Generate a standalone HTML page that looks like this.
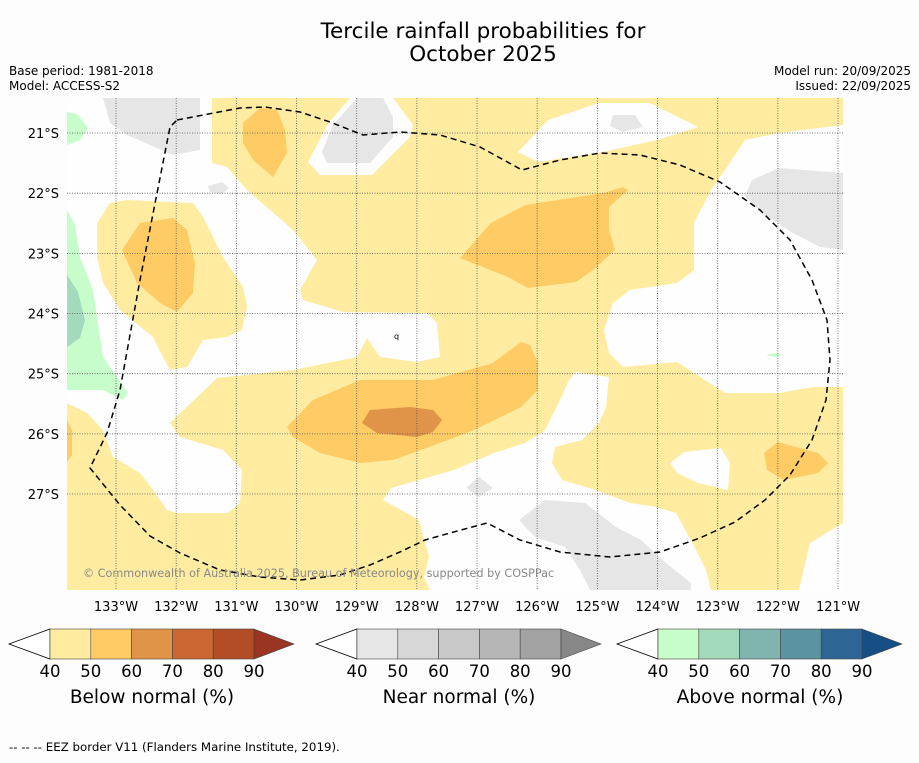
<!DOCTYPE html>
<html><head><meta charset="utf-8">
<style>
html,body{margin:0;padding:0;background:#fdfdfd;}
body{width:919px;height:758px;overflow:hidden;font-family:"Liberation Sans",sans-serif;}
text{font-family:"DejaVu Sans","Liberation Sans",sans-serif;}
</style></head>
<body>
<svg id="chart" width="919" height="758" viewBox="0 0 919 758" xmlns="http://www.w3.org/2000/svg">
<rect x="0" y="0" width="919" height="758" fill="#fdfdfd"/>
<text x="483" y="38" font-size="21.5" text-anchor="middle" fill="#000">Tercile rainfall probabilities for</text>
<text x="483" y="61" font-size="21.5" text-anchor="middle" fill="#000">October 2025</text>
<text x="9" y="75" font-size="12">Base period: 1981-2018</text>
<text x="9" y="90" font-size="12">Model: ACCESS-S2</text>
<text x="911" y="75" font-size="12" text-anchor="end">Model run: 20/09/2025</text>
<text x="911" y="90" font-size="12" text-anchor="end">Issued: 22/09/2025</text>

<defs><clipPath id="mapclip"><rect x="67" y="98" width="776" height="492"/></clipPath></defs>
<g clip-path="url(#mapclip)">
<rect x="67" y="98" width="776" height="492" fill="#ffeca0"/>
<g fill="#fefefe">
<path d="M67,98 L212,98 L212,163 L227,167 L247,190 L293,230 L317,260 L300,290 L303,300 L343,312 L427,313 L437,323 L440,357 L417,362 L380,357 L367,338 L357,357 L293,370 L217,378 L170,423 L180,437 L223,450 L242,470 L240,503 L227,513 L177,513 L167,510 L153,490 L140,473 L113,457 L103,430 L87,413 L67,403 Z"/>
<path d="M350,98 L393,98 L413,125 L410,137 L372,175 L320,175 L308,162 L318,143 L327,125 Z"/>
<path d="M518,152 L548,120 L599,103 L650,103 L698,127 L657,140 L603,152 L538,162 Z"/>
<path d="M843,125 L779,133 L745,140 L725,170 L711,190 L694,223 L694,270 L677,283 L630,290 L613,303 L604,330 L609,353 L623,367 L677,362 L725,393 L779,393 L813,387 L843,387 Z"/>
<path d="M569,380 L576,372 L609,377 L606,407 L599,423 L582,440 L555,447 L552,463 L562,480 L596,490 L630,503 L656,507 L676,513 L691,540 L706,570 L711,590 L430,590 L424,577 L429,557 L419,520 L388,503 L383,500 L391,488 L454,470 L494,453 L525,443 L545,430 L560,400 Z"/>
<path d="M670,463 L684,452 L721,448 L730,463 L728,490 L698,483 L677,473 Z"/>
<path d="M799,590 L810,543 L843,523 L843,590 Z"/>
</g>
<path fill="#ffeca0" d="M97,223 L110,203 L127,200 L193,203 L203,217 L223,257 L243,287 L247,307 L242,330 L227,337 L203,340 L187,367 L170,370 L163,357 L153,337 L120,310 L103,283 L97,257 Z"/>
<g fill="#e6e6e6">
<path d="M103,98 L200,98 L200,150 L173,155 L127,135 L110,123 Z"/>
<path d="M208,186 L222,182 L229,188 L222,194 L210,192 Z"/>
<path d="M357,98 L383,98 L393,117 L393,137 L370,163 L327,163 L322,152 L333,125 Z"/>
<path d="M613,115 L635,115 L643,127 L623,132 L610,126 Z"/>
<path d="M752,180 L779,168 L843,173 L843,250 L820,247 L793,233 L762,213 L745,196 Z"/>
<path d="M479,477 L493,488 L479,497 L466,488 Z"/>
<path d="M519,520 L545,500 L585,503 L616,527 L641,540 L666,563 L691,583 L691,590 L590,590 L580,570 L565,547 L535,537 Z"/>
</g>
<path fill="#c7fccb" d="M67,112 L77,114 L88,128 L80,140 L67,145 Z"/>
<path fill="#c7fccb" d="M67,210 L75,225 L80,257 L93,290 L103,357 L117,377 L128,393 L123,400 L103,390 L67,390 Z"/>
<path fill="#a3d9bd" d="M67,275 L78,292 L85,320 L80,338 L67,347 Z"/>
<path fill="#c7fccb" d="M766,355 L775,353 L784,355 L775,357 Z"/>
<g fill="#fecb65">
<path d="M243,123 L260,108 L277,110 L285,130 L287,153 L273,177 L253,160 L243,143 Z"/>
<path d="M122,250 L140,223 L173,218 L187,230 L195,263 L193,293 L177,312 L160,303 L137,283 Z"/>
<path d="M460,258 L491,223 L525,205 L603,193 L623,187 L628,190 L609,207 L609,230 L615,250 L593,270 L576,282 L528,288 L508,277 Z"/>
<path d="M287,427 L313,400 L360,380 L433,380 L493,363 L521,342 L530,345 L538,363 L538,390 L521,407 L474,430 L440,443 L393,460 L360,463 L320,453 L293,437 Z"/>
<path d="M764,453 L778,442 L818,453 L828,463 L818,473 L784,480 L767,470 Z"/>
<path d="M67,420 L72,430 L72,455 L67,462 Z"/>
</g>
<path fill="#e09448" d="M362,423 L370,410 L410,407 L433,410 L442,420 L433,432 L417,437 L377,433 Z"/>
</g>

<g id="grid"></g>
<path fill="none" stroke="#000" stroke-width="1.5" stroke-dasharray="6,4" d="M177,120 L240,108 L265,107 L300,112 L330,122 L363,135 L400,132 L440,135 L480,147 L522,170 L560,160 L600,153 L640,155 L680,165 L720,182 L760,210 L790,240 L812,280 L827,320 L830,360 L826,400 L812,440 L790,475 L765,500 L735,522 L700,538 L660,552 L610,557 L560,552 L520,540 L487,523 L450,533 L425,540 L400,552 L370,565 L340,575 L300,580 L260,577 L220,570 L180,553 L150,536 L120,505 L90,468 L107,433 L120,390 L140,280 L170,127 Z"/>
<text x="394" y="339" font-size="8">q</text>
<text x="83" y="577" font-size="11.2" fill="#888">© Commonwealth of Australia 2025, Bureau of Meteorology, supported by COSPPac</text>
<g id="axes"></g>
<g id="bars"></g>
<text x="9" y="751" font-size="11.8">--  --  -- EEZ border V11 (Flanders Marine Institute, 2019).</text>
</svg>
<script>
const lonTicks = [133,132,131,130,129,128,127,126,125,124,123,122,121];
const latTicks = [21,22,23,24,25,26,27];
const cbTicks = ["40","50","60","70","80","90"];
const cbTitles = ["Below normal (%)","Near normal (%)","Above normal (%)"];
const cbColors = [
 ["#ffeca0","#fecb65","#e09448","#cc6633","#b24d28","#9a3523"],
 ["#e6e6e6","#d7d7d7","#c8c8c8","#b6b6b6","#a3a3a3","#878787"],
 ["#c7fccb","#a3d9bd","#80b5ad","#5b94a0","#2f6595","#154f86"]
];
const NS="http://www.w3.org/2000/svg";
function xLon(l){return 116+(133-l)*60.17;}
function yLat(l){return 133+(l-21)*60.17;}
function mk(tag,attrs,parent){const e=document.createElementNS(NS,tag);for(const k in attrs)e.setAttribute(k,attrs[k]);parent.appendChild(e);return e;}
const grid=document.getElementById('grid'), axes=document.getElementById('axes'), bars=document.getElementById('bars');
lonTicks.forEach(l=>{
 const x=xLon(l);
 const ln=mk('line',{x1:x,x2:x,y1:98,y2:590,stroke:'#555','stroke-width':0.8,'stroke-dasharray':'1,1.5'},grid);
 
 
 const t=mk('text',{x:x,y:611,'font-size':13,'text-anchor':'middle'},axes);
 t.textContent=l+'°W';
 
 
});
latTicks.forEach(l=>{
 const y=yLat(l);
 const ln=mk('line',{x1:67,x2:843,y1:y,y2:y,stroke:'#555','stroke-width':0.8,'stroke-dasharray':'1,1.5'},grid);
 
 
 const t=mk('text',{x:59,y:y+5,'font-size':13,'text-anchor':'end'},axes);
 t.textContent=l+'°S';
 
 
});
const barX=[9,316,617];
cbColors.forEach((cols,i)=>{
 const x0=barX[i], bx=x0+41, w=40.8, y0=629, h=30;
 const g=mk('g',{},bars);
 
 
 const lt=mk('polygon',{points:`${x0},${y0+h/2} ${bx},${y0} ${bx},${y0+h}`,fill:'#fff',stroke:'#000','stroke-width':0.8},g);
 
 
 for(let k=0;k<5;k++){
  const r=mk('rect',{x:bx+k*w,y:y0,width:w,height:h,fill:cols[k],stroke:'#444','stroke-width':0.6},g);
  
  
 }
 const ex=bx+5*w;
 const rt=mk('polygon',{points:`${ex},${y0} ${ex+40},${y0+h/2} ${ex},${y0+h}`,fill:cols[5],stroke:'#444','stroke-width':0.6},g);
 
 
 cbTicks.forEach((lab,k)=>{
  const t=mk('text',{x:bx+k*w,y:677,'font-size':16.5,'text-anchor':'middle'},g);
  t.textContent=lab;
  
  
 });
 const tt=mk('text',{x:bx+2.5*w,y:703,'font-size':18.5,'text-anchor':'middle'},g);
 tt.textContent=cbTitles[i];
 
 
});
</script>
</body></html>
